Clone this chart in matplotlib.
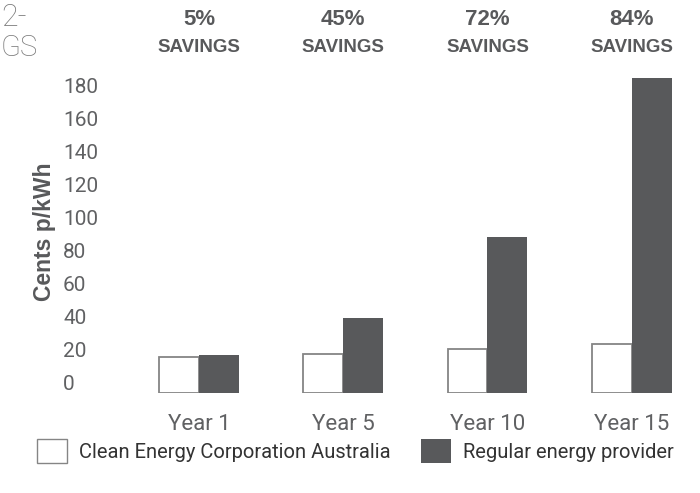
import numpy as np
import matplotlib
matplotlib.use('Agg')
import matplotlib.pyplot as plt
from matplotlib.patches import Patch
from matplotlib.transforms import ScaledTranslation

years = ['Year 1', 'Year 5', 'Year 10', 'Year 15']
savings = ['5%', '45%', '72%', '84%']
clean_energy = [21.5, 23.7, 26.4, 29.6]
regular_provider = [22.7, 45.3, 94.2, 190.5]
y_ticks = [0, 20, 40, 60, 80, 100, 120, 140, 160, 180]

DARK = '#58595b'
EDGE = '#858585'
TEXT = '#58595b'
LIGHT_TEXT = '#606163'

fig = plt.figure(figsize=(7, 4.93), dpi=100)
ax = fig.add_axes([130 / 700, 100 / 493, 560 / 700, 331 / 493])

x = np.arange(len(years))
w = 0.277
ax.bar(x - w / 2, clean_energy, w, color='white', edgecolor=EDGE, linewidth=1.3)
ax.bar(x + w / 2, regular_provider, w, color=DARK, edgecolor='none')

ax.set_ylim(0, 200)
ax.set_xlim(-0.478, 3.404)
for s in ax.spines.values():
    s.set_visible(False)
ax.set_yticks([])
ax.set_xticks(x)
ax.set_xticklabels(years, fontsize=16, family='Roboto', color=LIGHT_TEXT)
ax.tick_params(axis='x', length=0, pad=15)

# y labels sit a little above their gridline positions in the original
lift = ScaledTranslation(0, 8 / 100, fig.dpi_scale_trans)
for t in y_ticks:
    ax.text(-67 / 560, t, str(t), transform=ax.get_yaxis_transform() + lift,
            ha='left', va='center', fontsize=15, family='Roboto',
            color=LIGHT_TEXT, clip_on=False)

fig.text(45 / 700, 1 - 232 / 493, 'Cents p/kWh', rotation=90, ha='center', va='center',
         fontsize=16.5, fontweight='bold', family='Liberation Sans', color=TEXT)

for xi, s in zip(x, savings):
    ax.text(xi, (393 - 19) / 331, s, transform=ax.get_xaxis_transform(), ha='center',
            va='center', fontsize=16, fontweight='bold', family='Liberation Sans', color=TEXT)
    ax.text(xi, (393 - 47) / 331, 'SAVINGS', transform=ax.get_xaxis_transform(), ha='center',
            va='center', fontsize=13.5, fontweight='bold', family='Liberation Sans', color=TEXT)

# heading fragment at the top left
fig.text(1 / 700, 1 - 18 / 493, '2-', ha='left', va='center', fontsize=22,
         family='Roboto', fontweight='light', color='#7a7a7a')
fig.text(1 / 700, 1 - 48 / 493, 'GS', ha='left', va='center', fontsize=21,
         family='Roboto', fontweight='light', color='#7a7a7a')

handles = [Patch(facecolor='white', edgecolor=EDGE, linewidth=1.0),
           Patch(facecolor=DARK, edgecolor='none')]
fig.legend(handles, ['Clean Energy Corporation Australia', 'Regular energy provider'],
           loc='center left', bbox_to_anchor=(27 / 700, 1 - 451 / 493), ncol=2,
           frameon=False, handlelength=1.5, handleheight=1.5,
           handletextpad=0.6, columnspacing=1.5, borderpad=0,
           prop={'family': 'Roboto', 'size': 14.5})
for t in fig.legends[0].get_texts():
    t.set_color('#333333')

fig.savefig('out.png', dpi=100)
